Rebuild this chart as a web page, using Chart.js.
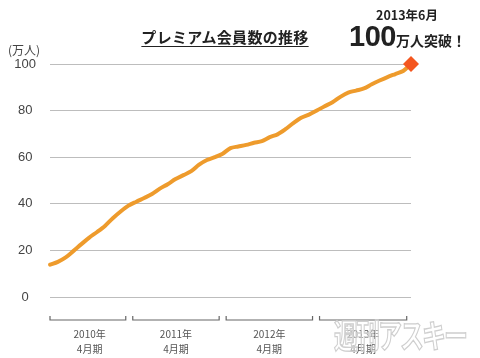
<!DOCTYPE html>
<html lang="ja">
<head>
    <meta charset="UTF-8">
    <title>プレミアム会員数の推移</title>
    <script src="https://cdn.jsdelivr.net/npm/chart.js"></script>
    <style>
        html, body { margin: 0; padding: 0; background: #fff; }
        #wrap { position: relative; width: 480px; height: 358px; overflow: hidden; font-family: "Noto Sans CJK JP", sans-serif; }
        #wrap canvas { position: absolute; left: 0; top: 0; }
        .txt { position: absolute; white-space: nowrap; color: #222; }
        #unit { left: 8px; top: 41px; font-size: 12px; color: #444; }
        #title { left: 135px; top: 26px; width: 180px; text-align: center; font-size: 15px; font-weight: bold; text-decoration: underline; text-underline-offset: 3px; letter-spacing: 0.3px; }
        #date { left: 376px; top: 5px; font-size: 12.5px; font-weight: bold; }
        #milestone { left: 349px; top: 20px; font-weight: bold; }
        #milestone .big { font-family: "Liberation Sans", sans-serif; font-size: 29px; letter-spacing: -0.5px; }
        #milestone .small { font-size: 14px; }
        #mark { left: 334px; top: 310px; font-size: 24px; font-weight: bold; color: rgba(255,255,255,0.35); -webkit-text-stroke: 1px #cfcfcf; transform: scaleY(1.35); transform-origin: top left; letter-spacing: -2px; }
    </style>
</head>
<body>
<div id="wrap">
    <canvas id="chart" width="480" height="358"></canvas>
    <div class="txt" id="unit">(万人)</div>
    <div class="txt" id="title">プレミアム会員数の推移</div>
    <div class="txt" id="date">2013年6月</div>
    <div class="txt" id="milestone"><span class="big">100</span><span class="small">万人突破！</span></div>
    <div class="txt" id="mark">週刊アスキー</div>
</div>
<script>
// monthly member counts (万人), month 0 = first month on the chart
const members = [
    13.9, 15.1, 17.0, 19.8, 22.7, 25.5, 27.9, 30.5, 33.8, 36.7,
    39.2, 40.9, 42.5, 44.2, 46.5, 48.4, 50.6, 52.3, 54.0, 56.8,
    58.8, 60.0, 61.5, 63.9, 64.6, 65.3, 66.2, 66.9, 68.6, 69.8,
    72.0, 74.6, 76.9, 78.3, 80.0, 81.9, 83.6, 85.9, 87.7, 88.6,
    89.5, 91.3, 92.9, 94.4, 95.7, 97.0, 100
];
// fiscal periods (start / end month index)
const periodLabels = [["2010年", "4月期"], ["2011年", "4月期"], ["2012年", "4月期"], ["2013年", "4月期"]];
const periodStart = [0, 10.1, 22.0, 33.9];
const periodEnd = [10.1, 22.0, 33.9, 45.9];
const yTicks = [0, 20, 40, 60, 80, 100];

const points = members.map((v, i) => ({ x: i, y: v }));
const lastIdx = members.length - 1;

// bracket under each fiscal period
const bracketPlugin = {
    id: "brackets",
    afterDraw(chart) {
        const xs = chart.scales.x;
        const ctx = chart.ctx;
        const y = 320, h = 4, gap = 3.5;
        ctx.save();
        ctx.strokeStyle = "#666";
        ctx.lineWidth = 1.2;
        periodStart.forEach((s, i) => {
            const x0 = xs.getPixelForValue(s) + (i === 0 ? 0 : gap);
            const x1 = xs.getPixelForValue(periodEnd[i]) - gap;
            ctx.beginPath();
            ctx.moveTo(x0, y - h);
            ctx.lineTo(x0, y);
            ctx.lineTo(x1, y);
            ctx.lineTo(x1, y - h);
            ctx.stroke();
        });
        ctx.restore();
    }
};

new Chart(document.getElementById("chart"), {
    type: "line",
    data: {
        datasets: [{
            data: points,
            borderColor: "#EE9B2C",
            borderWidth: 4,
            borderCapStyle: "round",
            borderJoinStyle: "round",
            tension: 0.3,
            clip: false,
            pointStyle: "rectRot",
            pointRadius: ctx => ctx.dataIndex === lastIdx ? 8 : 0,
            pointBackgroundColor: "#F4561F",
            pointBorderColor: "#F4561F",
            pointBorderWidth: 0
        }]
    },
    options: {
        responsive: false,
        animation: false,
        layout: { padding: { top: 64, right: 69, bottom: 0, left: 0 } },
        plugins: { legend: { display: false }, tooltip: { enabled: false } },
        scales: {
            x: {
                type: "linear",
                min: 0,
                max: lastIdx,
                grid: { display: false, drawTicks: false },
                border: { display: false },
                afterFit(scale) { scale.height = 61; },
                afterBuildTicks(scale) {
                    scale.ticks = periodStart.map((s, i) => ({ value: (s + periodEnd[i]) / 2 }));
                },
                ticks: {
                    autoSkip: false,
                    maxRotation: 0,
                    padding: 30,
                    color: "#555",
                    font: { family: "'Noto Sans CJK JP', sans-serif", size: 10, lineHeight: 1.45 },
                    callback: (v, i) => periodLabels[i]
                }
            },
            y: {
                min: 0,
                max: 100,
                afterFit(scale) { scale.width = 50; },
                afterBuildTicks(scale) {
                    scale.ticks = yTicks.map(v => ({ value: v }));
                },
                grid: { color: "#bdbdbd", lineWidth: 1, drawTicks: false },
                border: { display: false },
                ticks: {
                    crossAlign: "center",
                    padding: 14,
                    color: "#444",
                    font: { family: "'Liberation Sans', sans-serif", size: 13 }
                }
            }
        }
    },
    plugins: [bracketPlugin]
});
</script>
</body>
</html>
